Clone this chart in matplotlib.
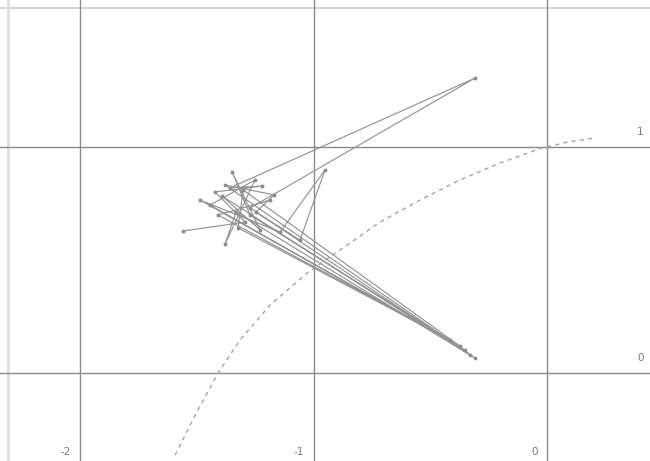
import numpy as np
import matplotlib.pyplot as plt

# trajectory vertices (real, imag)
path_re = [-1.559, -1.293, -1.422, -1.221, -1.358, -0.308, -1.272, -0.330,
           -1.392, -1.229, -1.349, -1.272, -0.351, -1.443, -1.251, -1.379,
           -1.332, -0.308, -1.379, -1.169, -1.246, -1.058, -0.951, -1.143,
           -1.486, -0.373, -1.302, -1.323, -0.415, -1.409, -1.186]
path_im = [0.628, 0.668, 0.801, 0.827, 0.819, 1.305, 0.730, 0.080,
           0.783, 0.633, 0.889, 0.699, 0.102, 0.743, 0.854, 0.571,
           0.712, 0.066, 0.832, 0.788, 0.712, 0.588, 0.898, 0.624,
           0.765, 0.119, 0.810, 0.642, 0.146, 0.699, 0.765]

# dashed boundary curve
arc_re = [-1.593, -1.507, -1.409, -1.315, -1.186, -1.028, -0.887, -0.715,
          -0.545, -0.373, -0.201, -0.021, 0.090, 0.206]
arc_im = [-0.363, -0.186, 0.000, 0.146, 0.301, 0.442, 0.544, 0.668,
          0.765, 0.854, 0.929, 0.996, 1.022, 1.040]

grid_x = [-2, -1, 0]
grid_y = [0, 1]
x_labels = ["-2", "-1", "0"]
y_labels = ["0", "1"]

fig = plt.figure(figsize=(6.5, 4.61), dpi=100)
ax = fig.add_axes([0, 0, 1, 1])
ax.set_xlim(-2.343, 0.441)
ax.set_ylim(-0.389, 1.650)
ax.axis("off")

for gx in grid_x:
    ax.axvline(gx, color="#8a8a8a", lw=1.0, zorder=1)
for gy in grid_y:
    ax.axhline(gy, color="#8a8a8a", lw=1.0, zorder=1)

# faint frame edges
ax.axhline(1.615, color="#cccccc", lw=1.2, zorder=0)
ax.axvline(-2.31, color="#dedede", lw=2.0, zorder=0)

ax.plot(arc_re, arc_im, color="#a4a4a4", lw=1.0, ls=(0, (3, 3)), zorder=2)

ax.plot(path_re, path_im, color="#949494", lw=0.85, marker="o", ms=1.8,
        mfc="#8c8c8c", mec="#8c8c8c", zorder=3)

for gx, lab in zip(grid_x, x_labels):
    ax.text(gx - 0.04, -0.35, lab, ha="right", va="center",
            fontsize=7.5, color="#777777")
for gy, lab in zip(grid_y, y_labels):
    ax.text(0.40, gy + 0.065, lab, ha="center", va="center",
            fontsize=7.5, color="#777777")

fig.savefig("out.png", dpi=100)
